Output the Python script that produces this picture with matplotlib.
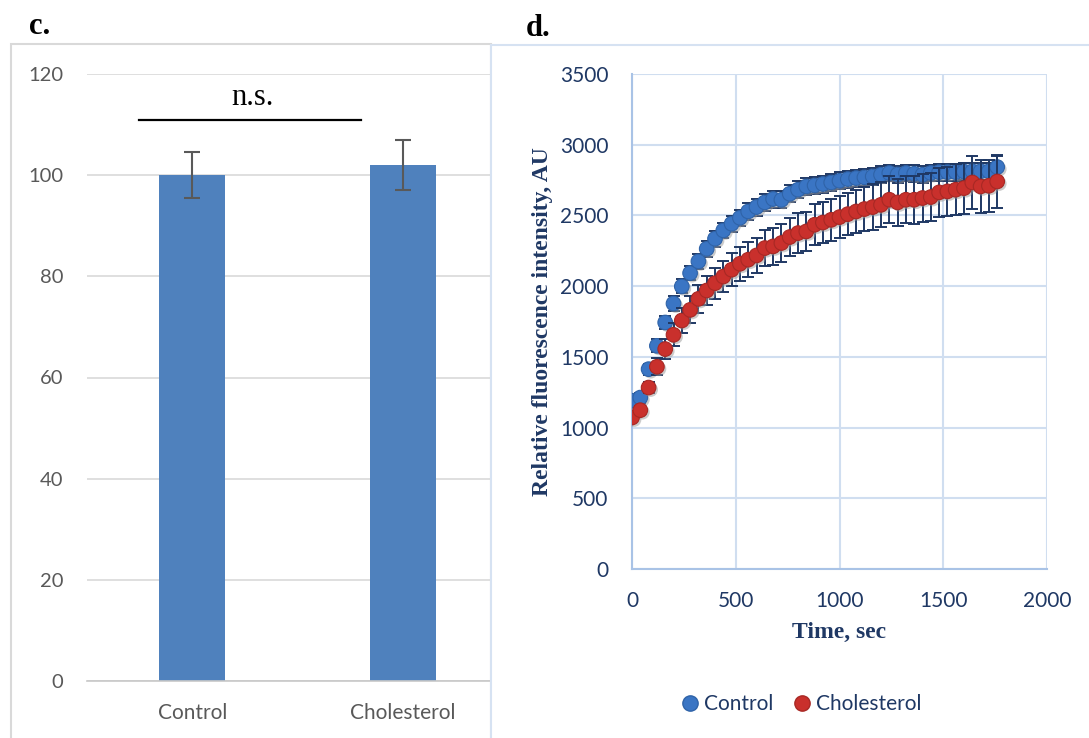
import matplotlib
matplotlib.use("Agg")
import matplotlib.pyplot as plt
from matplotlib.patches import Rectangle
from matplotlib.lines import Line2D
import matplotlib.patheffects as pe

# ---------------- data ----------------
bar_categories = ["Control", "Cholesterol"]
bar_values = [100, 102]
bar_errors = [4.6, 4.9]
ns_level = 110.9

time_sec = [0, 40, 80, 120, 160, 200, 240, 280, 320, 360, 400, 440, 480, 520, 560,
            600, 640, 680, 720, 760, 800, 840, 880, 920, 960, 1000, 1040, 1080, 1120, 1160,
            1200, 1240, 1280, 1320, 1360, 1400, 1440, 1480, 1520, 1560, 1600, 1640, 1680, 1720, 1760]
control_vals = [1190, 1212, 1413, 1578, 1743, 1877, 1998, 2092, 2175, 2264, 2335, 2394, 2441, 2483, 2528,
                2559, 2592, 2616, 2610, 2653, 2682, 2705, 2712, 2722, 2733, 2745, 2757, 2764, 2769, 2776,
                2788, 2800, 2790, 2800, 2795, 2788, 2800, 2806, 2806, 2806, 2810, 2812, 2812, 2812, 2842]
control_err = [30, 35, 40, 45, 45, 50, 50, 50, 55, 55, 55, 55, 55, 55, 60,
               60, 60, 60, 60, 60, 60, 60, 60, 60, 60, 60, 60, 60, 60, 60,
               60, 60, 60, 60, 60, 60, 60, 60, 60, 60, 60, 60, 60, 60, 80]
chol_vals = [1071, 1123, 1283, 1430, 1555, 1656, 1757, 1832, 1910, 1969, 2021, 2068, 2116, 2158, 2187,
             2217, 2269, 2281, 2305, 2347, 2375, 2387, 2434, 2450, 2469, 2488, 2509, 2528, 2545, 2559,
             2575, 2611, 2592, 2611, 2611, 2623, 2630, 2663, 2670, 2682, 2693, 2733, 2705, 2710, 2740]
chol_err = [20, 30, 40, 60, 70, 80, 90, 95, 100, 105, 110, 110, 115, 120, 125,
            125, 130, 130, 135, 135, 140, 140, 145, 145, 150, 150, 150, 155, 155, 160,
            160, 165, 165, 165, 170, 170, 170, 175, 175, 180, 180, 185, 185, 185, 190]

x_ticks = [0, 500, 1000, 1500, 2000]
y_ticks = [0, 500, 1000, 1500, 2000, 2500, 3000, 3500]
bar_yticks = [0, 20, 40, 60, 80, 100, 120]

# ---------------- figure ----------------
W, H = 1089, 738
fig = plt.figure(figsize=(W / 100, H / 100), dpi=100)
fig.patch.set_facecolor("white")

def fx(px):
    return px / W

def fy(py):
    return 1 - py / H

sans = ["Lato", "DejaVu Sans"]
serif = ["Liberation Serif", "DejaVu Serif"]

# ---- left panel (bar chart) ----
axL = fig.add_axes([fx(87), fy(681), fx(508) - fx(87), fy(74) - fy(681)], zorder=0)
xpos = list(range(len(bar_categories)))
axL.bar(xpos, bar_values, width=0.315, color="#4F81BD", zorder=2)
axL.errorbar(xpos, bar_values, yerr=bar_errors, fmt="none", ecolor="#595959",
             elinewidth=1.5, capsize=5.5, capthick=1.5, zorder=3)
axL.set_xlim(-0.5, 1.5)
axL.set_ylim(0, 120)
axL.set_yticks(bar_yticks)
axL.set_xticks(xpos)
axL.set_xticklabels(bar_categories)
axL.grid(axis="y", color="#D9D9D9", linewidth=1.2, zorder=0)
axL.set_axisbelow(True)
for s in ["left", "right", "top"]:
    axL.spines[s].set_visible(False)
axL.spines["bottom"].set_color("#C8C8C8")
axL.spines["bottom"].set_linewidth(1.2)
axL.tick_params(axis="both", length=0, labelcolor="#595959")
axL.tick_params(axis="y", pad=17, labelsize=14.5)
axL.tick_params(axis="x", pad=16, labelsize=15)
for lab in axL.get_xticklabels() + axL.get_yticklabels():
    lab.set_fontfamily(sans)
# n.s. bar
axL.plot([-0.252, 0.803], [ns_level, ns_level], color="black", linewidth=1.6, clip_on=False, zorder=4)
axL.text(0.287, 113.9, "n.s.", ha="center", va="baseline", fontsize=22,
         fontfamily=serif, color="black")

# left frame
fig.patches.append(Rectangle((fx(11), fy(738) - 0.01), fx(491) - fx(11), fy(44) - fy(738) + 0.01,
                             transform=fig.transFigure, fill=False, edgecolor="#D9D9D9",
                             linewidth=1.5, zorder=0.5))
# right frame (covers left gridlines)
fig.patches.append(Rectangle((fx(491), fy(738) - 0.01), fx(1089) - fx(491) + 0.01, fy(45) - fy(738) + 0.01,
                             transform=fig.transFigure, facecolor="white", edgecolor="#D6E2F2",
                             linewidth=1.5, zorder=1))

# ---- right panel (scatter) ----
axR = fig.add_axes([fx(632), fy(569), fx(1047) - fx(632), fy(74) - fy(569)], zorder=2)
axR.patch.set_alpha(0)
axR.set_xlim(0, 2000)
axR.set_ylim(0, 3500)
axR.set_xticks(x_ticks)
axR.set_yticks(y_ticks)
axR.grid(True, color="#D0DEF0", linewidth=1.5, zorder=0)
axR.set_axisbelow(True)
for s in ["top", "right"]:
    axR.spines[s].set_visible(False)
for s in ["left", "bottom"]:
    axR.spines[s].set_color("#A9C3E6")
    axR.spines[s].set_linewidth(1.5)
axR.tick_params(axis="both", length=0, labelsize=15, labelcolor="#1F3864")
axR.tick_params(axis="y", pad=17)
axR.tick_params(axis="x", pad=16)
for lab in axR.get_xticklabels() + axR.get_yticklabels():
    lab.set_fontfamily(sans)

navy = "#1F3864"
blue = "#3A75C4"
red = "#C9302C"
shadow = [pe.SimplePatchShadow(offset=(1.5, -1.5), shadow_rgbFace="#999999", alpha=0.5), pe.Normal()]

axR.errorbar(time_sec, control_vals, yerr=control_err, fmt="none", ecolor=navy,
             elinewidth=1.4, capsize=4, capthick=1.4, zorder=3)
axR.plot(time_sec, control_vals, "o", color=blue, markersize=10.5, markeredgecolor="#2F63A8",
         markeredgewidth=0.8, zorder=4, path_effects=shadow)
axR.errorbar(time_sec, chol_vals, yerr=chol_err, fmt="none", ecolor=navy,
             elinewidth=1.4, capsize=4, capthick=1.4, zorder=5)
axR.plot(time_sec, chol_vals, "o", color=red, markersize=10.5, markeredgecolor="#A82824",
         markeredgewidth=0.8, zorder=6, path_effects=shadow)

axR.set_ylabel("Relative fluorescence intensity, AU", fontsize=17, fontweight="bold",
               fontfamily=serif, color=navy, labelpad=5)
axR.set_xlabel("Time, sec", fontsize=17, fontweight="bold", fontfamily=serif, color=navy,
               labelpad=8)

handles = [Line2D([], [], marker="o", linestyle="none", color=blue, markeredgecolor="#2F63A8",
                  markersize=11, label="Control"),
           Line2D([], [], marker="o", linestyle="none", color=red, markeredgecolor="#A82824",
                  markersize=11, label="Cholesterol")]
leg = fig.legend(handles=handles, loc="center", bbox_to_anchor=(fx(799), fy(704)), ncol=2,
                 frameon=False, handletextpad=0.0, columnspacing=0.75, handlelength=1.3,
                 prop={"family": sans, "size": 15})
for t in leg.get_texts():
    t.set_color(navy)

# panel labels
fig.text(fx(29), fy(34), "c.", fontsize=22, fontweight="bold", fontfamily=serif, va="baseline", ha="left")
fig.text(fx(526), fy(36), "d.", fontsize=22, fontweight="bold", fontfamily=serif, va="baseline", ha="left")

fig.savefig("out.png", dpi=100, facecolor="white")
